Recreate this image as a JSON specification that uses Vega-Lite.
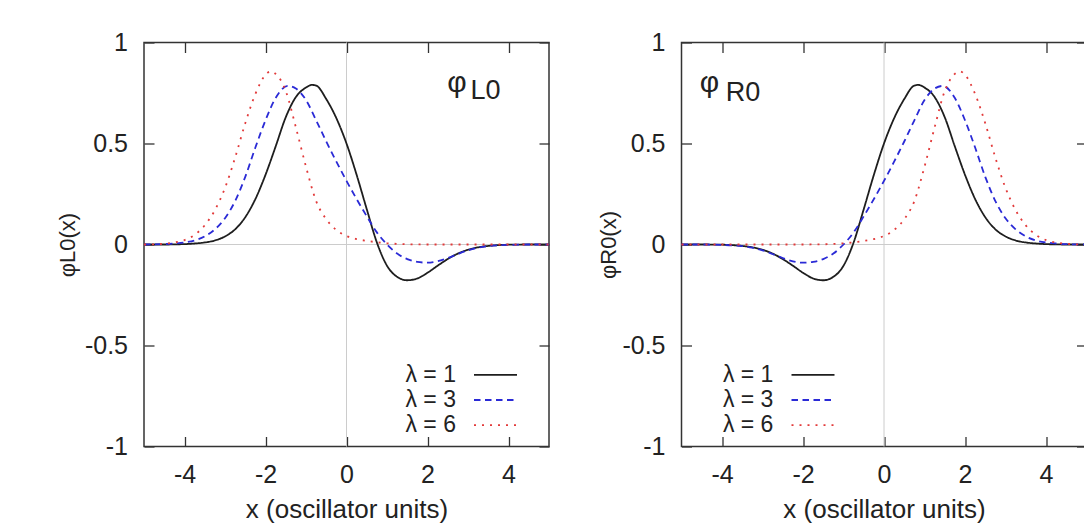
{
"$schema": "https://vega.github.io/schema/vega-lite/v6.json",
"autosize": {"type": "pad"},
"padding": {"left": 55, "top": 29.5, "right": 0, "bottom": 0},
"datasets": {
"curves": [
{"p":"L","lam":"λ = 1","x":-5,"phi":0},{"p":"L","lam":"λ = 1","x":-4.5,"phi":0},{"p":"L","lam":"λ = 1","x":-4,"phi":0.002},{"p":"L","lam":"λ = 1","x":-3.75,"phi":0.005},{"p":"L","lam":"λ = 1","x":-3.5,"phi":0.01},{"p":"L","lam":"λ = 1","x":-3.25,"phi":0.02},{"p":"L","lam":"λ = 1","x":-3,"phi":0.04},{"p":"L","lam":"λ = 1","x":-2.75,"phi":0.075},{"p":"L","lam":"λ = 1","x":-2.5,"phi":0.135},{"p":"L","lam":"λ = 1","x":-2.25,"phi":0.225},{"p":"L","lam":"λ = 1","x":-2,"phi":0.345},{"p":"L","lam":"λ = 1","x":-1.75,"phi":0.485},{"p":"L","lam":"λ = 1","x":-1.5,"phi":0.63},{"p":"L","lam":"λ = 1","x":-1.25,"phi":0.73},{"p":"L","lam":"λ = 1","x":-1,"phi":0.777},{"p":"L","lam":"λ = 1","x":-0.85,"phi":0.79},{"p":"L","lam":"λ = 1","x":-0.75,"phi":0.787},{"p":"L","lam":"λ = 1","x":-0.5,"phi":0.72},{"p":"L","lam":"λ = 1","x":-0.25,"phi":0.625},{"p":"L","lam":"λ = 1","x":0,"phi":0.5},{"p":"L","lam":"λ = 1","x":0.25,"phi":0.345},{"p":"L","lam":"λ = 1","x":0.5,"phi":0.175},{"p":"L","lam":"λ = 1","x":0.75,"phi":0.01},{"p":"L","lam":"λ = 1","x":1,"phi":-0.105},{"p":"L","lam":"λ = 1","x":1.25,"phi":-0.16},{"p":"L","lam":"λ = 1","x":1.5,"phi":-0.177},{"p":"L","lam":"λ = 1","x":1.75,"phi":-0.168},{"p":"L","lam":"λ = 1","x":2,"phi":-0.14},{"p":"L","lam":"λ = 1","x":2.25,"phi":-0.105},{"p":"L","lam":"λ = 1","x":2.5,"phi":-0.072},{"p":"L","lam":"λ = 1","x":2.75,"phi":-0.045},{"p":"L","lam":"λ = 1","x":3,"phi":-0.026},{"p":"L","lam":"λ = 1","x":3.25,"phi":-0.014},{"p":"L","lam":"λ = 1","x":3.5,"phi":-0.007},{"p":"L","lam":"λ = 1","x":3.75,"phi":-0.003},{"p":"L","lam":"λ = 1","x":4,"phi":-0.001},{"p":"L","lam":"λ = 1","x":4.5,"phi":0},{"p":"L","lam":"λ = 1","x":5,"phi":0},
{"p":"L","lam":"λ = 3","x":-5,"phi":0},{"p":"L","lam":"λ = 3","x":-4.5,"phi":0.002},{"p":"L","lam":"λ = 3","x":-4.25,"phi":0.005},{"p":"L","lam":"λ = 3","x":-4,"phi":0.01},{"p":"L","lam":"λ = 3","x":-3.75,"phi":0.02},{"p":"L","lam":"λ = 3","x":-3.5,"phi":0.04},{"p":"L","lam":"λ = 3","x":-3.25,"phi":0.075},{"p":"L","lam":"λ = 3","x":-3,"phi":0.13},{"p":"L","lam":"λ = 3","x":-2.75,"phi":0.215},{"p":"L","lam":"λ = 3","x":-2.5,"phi":0.335},{"p":"L","lam":"λ = 3","x":-2.25,"phi":0.48},{"p":"L","lam":"λ = 3","x":-2,"phi":0.615},{"p":"L","lam":"λ = 3","x":-1.75,"phi":0.725},{"p":"L","lam":"λ = 3","x":-1.45,"phi":0.785},{"p":"L","lam":"λ = 3","x":-1.25,"phi":0.772},{"p":"L","lam":"λ = 3","x":-1,"phi":0.715},{"p":"L","lam":"λ = 3","x":-0.75,"phi":0.615},{"p":"L","lam":"λ = 3","x":-0.5,"phi":0.51},{"p":"L","lam":"λ = 3","x":-0.25,"phi":0.41},{"p":"L","lam":"λ = 3","x":0,"phi":0.315},{"p":"L","lam":"λ = 3","x":0.25,"phi":0.225},{"p":"L","lam":"λ = 3","x":0.5,"phi":0.14},{"p":"L","lam":"λ = 3","x":0.75,"phi":0.06},{"p":"L","lam":"λ = 3","x":1,"phi":0},{"p":"L","lam":"λ = 3","x":1.25,"phi":-0.045},{"p":"L","lam":"λ = 3","x":1.5,"phi":-0.072},{"p":"L","lam":"λ = 3","x":1.75,"phi":-0.086},{"p":"L","lam":"λ = 3","x":2,"phi":-0.09},{"p":"L","lam":"λ = 3","x":2.25,"phi":-0.083},{"p":"L","lam":"λ = 3","x":2.5,"phi":-0.067},{"p":"L","lam":"λ = 3","x":2.75,"phi":-0.047},{"p":"L","lam":"λ = 3","x":3,"phi":-0.029},{"p":"L","lam":"λ = 3","x":3.25,"phi":-0.016},{"p":"L","lam":"λ = 3","x":3.5,"phi":-0.008},{"p":"L","lam":"λ = 3","x":3.75,"phi":-0.004},{"p":"L","lam":"λ = 3","x":4,"phi":-0.002},{"p":"L","lam":"λ = 3","x":4.5,"phi":0},{"p":"L","lam":"λ = 3","x":5,"phi":0},
{"p":"L","lam":"λ = 6","x":-5,"phi":0},{"p":"L","lam":"λ = 6","x":-4.75,"phi":0.001},{"p":"L","lam":"λ = 6","x":-4.5,"phi":0.004},{"p":"L","lam":"λ = 6","x":-4.25,"phi":0.01},{"p":"L","lam":"λ = 6","x":-4,"phi":0.022},{"p":"L","lam":"λ = 6","x":-3.75,"phi":0.048},{"p":"L","lam":"λ = 6","x":-3.5,"phi":0.095},{"p":"L","lam":"λ = 6","x":-3.25,"phi":0.17},{"p":"L","lam":"λ = 6","x":-3,"phi":0.28},{"p":"L","lam":"λ = 6","x":-2.75,"phi":0.43},{"p":"L","lam":"λ = 6","x":-2.5,"phi":0.6},{"p":"L","lam":"λ = 6","x":-2.25,"phi":0.745},{"p":"L","lam":"λ = 6","x":-2,"phi":0.84},{"p":"L","lam":"λ = 6","x":-1.875,"phi":0.857},{"p":"L","lam":"λ = 6","x":-1.75,"phi":0.845},{"p":"L","lam":"λ = 6","x":-1.5,"phi":0.76},{"p":"L","lam":"λ = 6","x":-1.25,"phi":0.58},{"p":"L","lam":"λ = 6","x":-1,"phi":0.385},{"p":"L","lam":"λ = 6","x":-0.75,"phi":0.215},{"p":"L","lam":"λ = 6","x":-0.5,"phi":0.125},{"p":"L","lam":"λ = 6","x":-0.25,"phi":0.072},{"p":"L","lam":"λ = 6","x":0,"phi":0.042},{"p":"L","lam":"λ = 6","x":0.25,"phi":0.027},{"p":"L","lam":"λ = 6","x":0.5,"phi":0.018},{"p":"L","lam":"λ = 6","x":0.75,"phi":0.011},{"p":"L","lam":"λ = 6","x":1,"phi":0.006},{"p":"L","lam":"λ = 6","x":1.25,"phi":0.003},{"p":"L","lam":"λ = 6","x":1.5,"phi":0.001},{"p":"L","lam":"λ = 6","x":2,"phi":0},{"p":"L","lam":"λ = 6","x":3,"phi":0},{"p":"L","lam":"λ = 6","x":4,"phi":0},{"p":"L","lam":"λ = 6","x":5,"phi":0},
{"p":"R","lam":"λ = 1","x":5,"phi":0},{"p":"R","lam":"λ = 1","x":4.5,"phi":0},{"p":"R","lam":"λ = 1","x":4,"phi":0.002},{"p":"R","lam":"λ = 1","x":3.75,"phi":0.005},{"p":"R","lam":"λ = 1","x":3.5,"phi":0.01},{"p":"R","lam":"λ = 1","x":3.25,"phi":0.02},{"p":"R","lam":"λ = 1","x":3,"phi":0.04},{"p":"R","lam":"λ = 1","x":2.75,"phi":0.075},{"p":"R","lam":"λ = 1","x":2.5,"phi":0.135},{"p":"R","lam":"λ = 1","x":2.25,"phi":0.225},{"p":"R","lam":"λ = 1","x":2,"phi":0.345},{"p":"R","lam":"λ = 1","x":1.75,"phi":0.485},{"p":"R","lam":"λ = 1","x":1.5,"phi":0.63},{"p":"R","lam":"λ = 1","x":1.25,"phi":0.73},{"p":"R","lam":"λ = 1","x":1,"phi":0.777},{"p":"R","lam":"λ = 1","x":0.85,"phi":0.79},{"p":"R","lam":"λ = 1","x":0.75,"phi":0.787},{"p":"R","lam":"λ = 1","x":0.5,"phi":0.72},{"p":"R","lam":"λ = 1","x":0.25,"phi":0.625},{"p":"R","lam":"λ = 1","x":0,"phi":0.5},{"p":"R","lam":"λ = 1","x":-0.25,"phi":0.345},{"p":"R","lam":"λ = 1","x":-0.5,"phi":0.175},{"p":"R","lam":"λ = 1","x":-0.75,"phi":0.01},{"p":"R","lam":"λ = 1","x":-1,"phi":-0.105},{"p":"R","lam":"λ = 1","x":-1.25,"phi":-0.16},{"p":"R","lam":"λ = 1","x":-1.5,"phi":-0.177},{"p":"R","lam":"λ = 1","x":-1.75,"phi":-0.168},{"p":"R","lam":"λ = 1","x":-2,"phi":-0.14},{"p":"R","lam":"λ = 1","x":-2.25,"phi":-0.105},{"p":"R","lam":"λ = 1","x":-2.5,"phi":-0.072},{"p":"R","lam":"λ = 1","x":-2.75,"phi":-0.045},{"p":"R","lam":"λ = 1","x":-3,"phi":-0.026},{"p":"R","lam":"λ = 1","x":-3.25,"phi":-0.014},{"p":"R","lam":"λ = 1","x":-3.5,"phi":-0.007},{"p":"R","lam":"λ = 1","x":-3.75,"phi":-0.003},{"p":"R","lam":"λ = 1","x":-4,"phi":-0.001},{"p":"R","lam":"λ = 1","x":-4.5,"phi":0},{"p":"R","lam":"λ = 1","x":-5,"phi":0},
{"p":"R","lam":"λ = 3","x":5,"phi":0},{"p":"R","lam":"λ = 3","x":4.5,"phi":0.002},{"p":"R","lam":"λ = 3","x":4.25,"phi":0.005},{"p":"R","lam":"λ = 3","x":4,"phi":0.01},{"p":"R","lam":"λ = 3","x":3.75,"phi":0.02},{"p":"R","lam":"λ = 3","x":3.5,"phi":0.04},{"p":"R","lam":"λ = 3","x":3.25,"phi":0.075},{"p":"R","lam":"λ = 3","x":3,"phi":0.13},{"p":"R","lam":"λ = 3","x":2.75,"phi":0.215},{"p":"R","lam":"λ = 3","x":2.5,"phi":0.335},{"p":"R","lam":"λ = 3","x":2.25,"phi":0.48},{"p":"R","lam":"λ = 3","x":2,"phi":0.615},{"p":"R","lam":"λ = 3","x":1.75,"phi":0.725},{"p":"R","lam":"λ = 3","x":1.45,"phi":0.785},{"p":"R","lam":"λ = 3","x":1.25,"phi":0.772},{"p":"R","lam":"λ = 3","x":1,"phi":0.715},{"p":"R","lam":"λ = 3","x":0.75,"phi":0.615},{"p":"R","lam":"λ = 3","x":0.5,"phi":0.51},{"p":"R","lam":"λ = 3","x":0.25,"phi":0.41},{"p":"R","lam":"λ = 3","x":0,"phi":0.315},{"p":"R","lam":"λ = 3","x":-0.25,"phi":0.225},{"p":"R","lam":"λ = 3","x":-0.5,"phi":0.14},{"p":"R","lam":"λ = 3","x":-0.75,"phi":0.06},{"p":"R","lam":"λ = 3","x":-1,"phi":0},{"p":"R","lam":"λ = 3","x":-1.25,"phi":-0.045},{"p":"R","lam":"λ = 3","x":-1.5,"phi":-0.072},{"p":"R","lam":"λ = 3","x":-1.75,"phi":-0.086},{"p":"R","lam":"λ = 3","x":-2,"phi":-0.09},{"p":"R","lam":"λ = 3","x":-2.25,"phi":-0.083},{"p":"R","lam":"λ = 3","x":-2.5,"phi":-0.067},{"p":"R","lam":"λ = 3","x":-2.75,"phi":-0.047},{"p":"R","lam":"λ = 3","x":-3,"phi":-0.029},{"p":"R","lam":"λ = 3","x":-3.25,"phi":-0.016},{"p":"R","lam":"λ = 3","x":-3.5,"phi":-0.008},{"p":"R","lam":"λ = 3","x":-3.75,"phi":-0.004},{"p":"R","lam":"λ = 3","x":-4,"phi":-0.002},{"p":"R","lam":"λ = 3","x":-4.5,"phi":0},{"p":"R","lam":"λ = 3","x":-5,"phi":0},
{"p":"R","lam":"λ = 6","x":5,"phi":0},{"p":"R","lam":"λ = 6","x":4.75,"phi":0.001},{"p":"R","lam":"λ = 6","x":4.5,"phi":0.004},{"p":"R","lam":"λ = 6","x":4.25,"phi":0.01},{"p":"R","lam":"λ = 6","x":4,"phi":0.022},{"p":"R","lam":"λ = 6","x":3.75,"phi":0.048},{"p":"R","lam":"λ = 6","x":3.5,"phi":0.095},{"p":"R","lam":"λ = 6","x":3.25,"phi":0.17},{"p":"R","lam":"λ = 6","x":3,"phi":0.28},{"p":"R","lam":"λ = 6","x":2.75,"phi":0.43},{"p":"R","lam":"λ = 6","x":2.5,"phi":0.6},{"p":"R","lam":"λ = 6","x":2.25,"phi":0.745},{"p":"R","lam":"λ = 6","x":2,"phi":0.84},{"p":"R","lam":"λ = 6","x":1.875,"phi":0.857},{"p":"R","lam":"λ = 6","x":1.75,"phi":0.845},{"p":"R","lam":"λ = 6","x":1.5,"phi":0.76},{"p":"R","lam":"λ = 6","x":1.25,"phi":0.58},{"p":"R","lam":"λ = 6","x":1,"phi":0.385},{"p":"R","lam":"λ = 6","x":0.75,"phi":0.215},{"p":"R","lam":"λ = 6","x":0.5,"phi":0.125},{"p":"R","lam":"λ = 6","x":0.25,"phi":0.072},{"p":"R","lam":"λ = 6","x":0,"phi":0.042},{"p":"R","lam":"λ = 6","x":-0.25,"phi":0.027},{"p":"R","lam":"λ = 6","x":-0.5,"phi":0.018},{"p":"R","lam":"λ = 6","x":-0.75,"phi":0.011},{"p":"R","lam":"λ = 6","x":-1,"phi":0.006},{"p":"R","lam":"λ = 6","x":-1.25,"phi":0.003},{"p":"R","lam":"λ = 6","x":-1.5,"phi":0.001},{"p":"R","lam":"λ = 6","x":-2,"phi":0},{"p":"R","lam":"λ = 6","x":-3,"phi":0},{"p":"R","lam":"λ = 6","x":-4,"phi":0},{"p":"R","lam":"λ = 6","x":-5,"phi":0}
]
},
"spacing": 132.5,
"bounds": "flush",
"resolve": {"scale": {"color": "independent", "strokeDash": "independent"}, "legend": {"color": "independent", "strokeDash": "independent"}},
"hconcat": [
{
"width": 405, "height": 404,
"resolve": {"axis": {"x": "independent", "y": "independent"}},
"layer": [
{"data": {"values": [{}]}, "mark": {"type": "rule", "color": "#cccccc", "strokeWidth": 1}, "encoding": {"x": {"datum": 0, "type": "quantitative", "scale": {"domain": [-5, 5], "nice": false}, "axis": null}}},
{"data": {"values": [{}]}, "mark": {"type": "rule", "color": "#cccccc", "strokeWidth": 1}, "encoding": {"y": {"datum": 0, "type": "quantitative", "scale": {"domain": [-1, 1], "nice": false}, "axis": null}}},
{"data": {"name": "curves"}, "transform": [{"filter": "datum.p === 'L'"}],
 "mark": {"type": "line", "interpolate": "monotone", "strokeWidth": 1.8},
 "encoding": {
  "x": {"field": "x", "type": "quantitative", "scale": {"domain": [-5, 5], "nice": false}, "axis": {"orient": "bottom", "values": [-4, -2, 0, 2, 4], "tickSize": -10, "labelPadding": 25.7, "labelExpr": "'' + datum.value", "title": "x (oscillator units)", "titlePadding": 9}},
  "y": {"field": "phi", "type": "quantitative", "scale": {"domain": [-1, 1], "nice": false}, "axis": {"orient": "left", "values": [-1, -0.5, 0, 0.5, 1], "tickSize": -10, "labelPadding": 26.5, "labelExpr": "'' + datum.value", "title": "φL0(x)", "titleFontSize": 22, "titlePadding": 5}},
  "color": {"field": "lam", "type": "nominal", "scale": {"domain": ["λ = 1", "λ = 3", "λ = 6"], "range": ["#1e1e1e", "#2a2ad6", "#e23a3a"]}, "legend": {"orient": "none", "legendX": 311.5, "legendY": 320.8, "title": null, "symbolType": "M-3,0H3", "symbolSize": 205.4, "symbolStrokeWidth": 1.8, "labelAlign": "right", "labelOffset": -51, "symbolOffset": 28.5, "rowPadding": 1.2, "labelFontSize": 23, "labelFont": "Liberation Sans", "labelColor": "#222", "padding": 0}},
  "strokeDash": {"field": "lam", "type": "nominal", "scale": {"domain": ["λ = 1", "λ = 3", "λ = 6"], "range": [[1, 0], [6.5, 4.5], [2, 6]]}, "legend": {"orient": "none", "legendX": 311.5, "legendY": 320.8, "title": null, "symbolType": "M-3,0H3", "symbolSize": 205.4, "symbolStrokeWidth": 1.8, "labelAlign": "right", "labelOffset": -51, "symbolOffset": 28.5, "rowPadding": 1.2, "labelFontSize": 23, "labelFont": "Liberation Sans", "labelColor": "#222", "padding": 0}}
 }},
{"data": {"name": "curves"}, "transform": [{"filter": "datum.p === 'L'"}],
 "mark": {"type": "line", "opacity": 0},
 "encoding": {
  "x": {"field": "x", "type": "quantitative", "scale": {"domain": [-5, 5], "nice": false}, "axis": {"orient": "top", "values": [-4, -2, 0, 2, 4], "tickSize": -10, "labels": false, "title": null}},
  "y": {"field": "phi", "type": "quantitative", "scale": {"domain": [-1, 1], "nice": false}, "axis": {"orient": "right", "values": [-1, -0.5, 0, 0.5, 1], "tickSize": -10, "labels": false, "title": null}}
 }},
{"data": {"values": [{}]}, "mark": {"type": "text", "fontSize": 30, "align": "center", "baseline": "alphabetic", "font": "Liberation Sans", "color": "#222"}, "encoding": {"x": {"datum": 2.73, "type": "quantitative", "scale": {"domain": [-5, 5], "nice": false}, "axis": null}, "y": {"datum": 0.753, "type": "quantitative", "scale": {"domain": [-1, 1], "nice": false}, "axis": null}, "text": {"value": "φ"}}},
{"data": {"values": [{}]}, "mark": {"type": "text", "fontSize": 27, "align": "left", "baseline": "alphabetic", "font": "Liberation Sans", "color": "#222"}, "encoding": {"x": {"datum": 3.06, "type": "quantitative", "scale": {"domain": [-5, 5], "nice": false}, "axis": null}, "y": {"datum": 0.72, "type": "quantitative", "scale": {"domain": [-1, 1], "nice": false}, "axis": null}, "text": {"value": "L0"}}}
]
},
{
"width": 405, "height": 404,
"resolve": {"axis": {"x": "independent", "y": "independent"}},
"layer": [
{"data": {"values": [{}]}, "mark": {"type": "rule", "color": "#cccccc", "strokeWidth": 1}, "encoding": {"x": {"datum": 0, "type": "quantitative", "scale": {"domain": [-5, 5], "nice": false}, "axis": null}}},
{"data": {"values": [{}]}, "mark": {"type": "rule", "color": "#cccccc", "strokeWidth": 1}, "encoding": {"y": {"datum": 0, "type": "quantitative", "scale": {"domain": [-1, 1], "nice": false}, "axis": null}}},
{"data": {"name": "curves"}, "transform": [{"filter": "datum.p === 'R'"}],
 "mark": {"type": "line", "interpolate": "monotone", "strokeWidth": 1.8},
 "encoding": {
  "x": {"field": "x", "type": "quantitative", "scale": {"domain": [-5, 5], "nice": false}, "axis": {"orient": "bottom", "values": [-4, -2, 0, 2, 4], "tickSize": -10, "labelPadding": 25.7, "labelExpr": "'' + datum.value", "title": "x (oscillator units)", "titlePadding": 9}},
  "y": {"field": "phi", "type": "quantitative", "scale": {"domain": [-1, 1], "nice": false}, "axis": {"orient": "left", "values": [-1, -0.5, 0, 0.5, 1], "tickSize": -10, "labelPadding": 26.5, "labelExpr": "'' + datum.value", "title": "φR0(x)", "titleFontSize": 22, "titlePadding": 1}},
  "color": {"field": "lam", "type": "nominal", "scale": {"domain": ["λ = 1", "λ = 3", "λ = 6"], "range": ["#1e1e1e", "#2a2ad6", "#e23a3a"]}, "legend": {"orient": "none", "legendX": 91.4, "legendY": 320.8, "title": null, "symbolType": "M-3,0H3", "symbolSize": 205.4, "symbolStrokeWidth": 1.8, "labelAlign": "right", "labelOffset": -51.1, "symbolOffset": 28.6, "rowPadding": 1.2, "labelFontSize": 23, "labelFont": "Liberation Sans", "labelColor": "#222", "padding": 0}},
  "strokeDash": {"field": "lam", "type": "nominal", "scale": {"domain": ["λ = 1", "λ = 3", "λ = 6"], "range": [[1, 0], [6.5, 4.5], [2, 6]]}, "legend": {"orient": "none", "legendX": 91.4, "legendY": 320.8, "title": null, "symbolType": "M-3,0H3", "symbolSize": 205.4, "symbolStrokeWidth": 1.8, "labelAlign": "right", "labelOffset": -51.1, "symbolOffset": 28.6, "rowPadding": 1.2, "labelFontSize": 23, "labelFont": "Liberation Sans", "labelColor": "#222", "padding": 0}}
 }},
{"data": {"name": "curves"}, "transform": [{"filter": "datum.p === 'R'"}],
 "mark": {"type": "line", "opacity": 0},
 "encoding": {
  "x": {"field": "x", "type": "quantitative", "scale": {"domain": [-5, 5], "nice": false}, "axis": {"orient": "top", "values": [-4, -2, 0, 2, 4], "tickSize": -10, "labels": false, "title": null}},
  "y": {"field": "phi", "type": "quantitative", "scale": {"domain": [-1, 1], "nice": false}, "axis": {"orient": "right", "values": [-1, -0.5, 0, 0.5, 1], "tickSize": -10, "labels": false, "title": null}}
 }},
{"data": {"values": [{}]}, "mark": {"type": "text", "fontSize": 30, "align": "center", "baseline": "alphabetic", "font": "Liberation Sans", "color": "#222"}, "encoding": {"x": {"datum": -4.31, "type": "quantitative", "scale": {"domain": [-5, 5], "nice": false}, "axis": null}, "y": {"datum": 0.753, "type": "quantitative", "scale": {"domain": [-1, 1], "nice": false}, "axis": null}, "text": {"value": "φ"}}},
{"data": {"values": [{}]}, "mark": {"type": "text", "fontSize": 27, "align": "left", "baseline": "alphabetic", "font": "Liberation Sans", "color": "#222"}, "encoding": {"x": {"datum": -3.91, "type": "quantitative", "scale": {"domain": [-5, 5], "nice": false}, "axis": null}, "y": {"datum": 0.71, "type": "quantitative", "scale": {"domain": [-1, 1], "nice": false}, "axis": null}, "text": {"value": "R0"}}}
]
}
],
"config": {
 "font": "Liberation Sans",
 "view": {"stroke": "#333333", "strokeWidth": 1.5},
 "axis": {"labelFont": "Liberation Sans", "labelFontSize": 25, "labelColor": "#222222", "titleFont": "Liberation Sans", "titleFontSize": 26, "titleFontWeight": "normal", "titleColor": "#222222", "tickColor": "#333333", "tickWidth": 1.3, "domain": false, "grid": false, "labelFlush": false}
}
}
